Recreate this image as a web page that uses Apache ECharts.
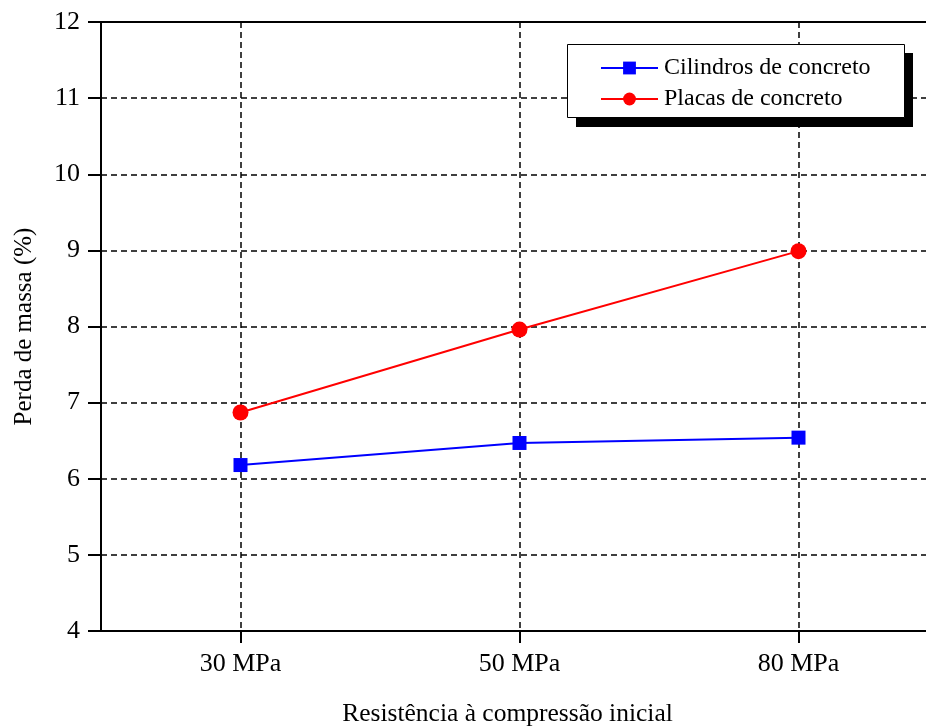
<!DOCTYPE html>
<html>
<head>
<meta charset="utf-8">
<script src="https://cdn.jsdelivr.net/npm/echarts@6/dist/echarts.min.js"></script>
<style>html,body{margin:0;padding:0;background:#fff;}#c{width:926px;height:727px;}</style>
</head>
<body>
<div id="c"></div>
<script>
const categories = ['30 MPa', '50 MPa', '80 MPa'];
const cilindros = [6.18, 6.47, 6.54];
const placas = [6.87, 7.96, 8.99];
const yTicks = [4, 5, 6, 7, 8, 9, 10, 11, 12];

const FONT = "'Liberation Serif', 'Times New Roman', serif";
const chart = echarts.init(document.getElementById('c'), null, {renderer: 'canvas'});
const dash = {color: '#000', width: 1.5, type: [6, 4]};
chart.setOption({
  animation: false,
  backgroundColor: '#fff',
  grid: {left: 101, top: 22, width: 837, height: 609, outerBoundsMode: 'none', containLabel: false, show: true, borderColor: '#000', borderWidth: 2, backgroundColor: 'transparent'},
  xAxis: {
    type: 'category',
    data: categories,
    boundaryGap: true,
    name: 'Resistência à compressão inicial',
    nameLocation: 'middle',
    nameGap: 70,
    nameTextStyle: {fontFamily: FONT, fontSize: 25.5, color: '#000', padding: [0, 24, 0, 0]},
    axisLine: {lineStyle: {color: '#000', width: 2}},
    axisTick: {show: true, alignWithLabel: true, length: 12, lineStyle: {color: '#000', width: 2}},
    axisLabel: {fontFamily: FONT, fontSize: 26, color: '#000', margin: 20},
    splitLine: {show: true, alignWithLabel: true, lineStyle: dash}
  },
  yAxis: {
    type: 'value',
    min: yTicks[0],
    max: yTicks[yTicks.length - 1],
    interval: 1,
    name: 'Perda de massa (%)',
    nameLocation: 'middle',
    nameGap: 64,
    nameTextStyle: {fontFamily: FONT, fontSize: 25, color: '#000'},
    axisLine: {show: true, lineStyle: {color: '#000', width: 2}},
    axisTick: {show: true, length: 13, lineStyle: {color: '#000', width: 2}},
    axisLabel: {fontFamily: FONT, fontSize: 26, color: '#000', margin: 21},
    splitLine: {show: true, lineStyle: dash}
  },
  legend: {
    orient: 'vertical',
    left: 600,
    top: 56,
    padding: 0,
    itemWidth: 57,
    itemHeight: 16,
    itemGap: 7,
    lineStyle: {width: 2},
    textStyle: {fontFamily: FONT, fontSize: 24, color: '#000', padding: [0, 0, 0, 1]},
    data: ['Cilindros de concreto', 'Placas de concreto'],
    z: 10
  },
  graphic: [
    {type: 'rect', left: 576, top: 53, shape: {width: 337, height: 74}, style: {fill: '#000'}, z: 5},
    {type: 'rect', left: 567, top: 44, shape: {width: 337, height: 73}, style: {fill: '#fff', stroke: '#000', lineWidth: 1}, z: 6}
  ],
  series: [
    {
      name: 'Cilindros de concreto',
      type: 'line',
      data: cilindros,
      symbol: 'rect',
      symbolSize: 14,
      itemStyle: {color: '#0000ff'},
      lineStyle: {color: '#0000ff', width: 2}
    },
    {
      name: 'Placas de concreto',
      type: 'line',
      data: placas,
      symbol: 'circle',
      symbolSize: 16,
      itemStyle: {color: '#ff0000'},
      lineStyle: {color: '#ff0000', width: 2}
    }
  ]
});
</script>
</body>
</html>
